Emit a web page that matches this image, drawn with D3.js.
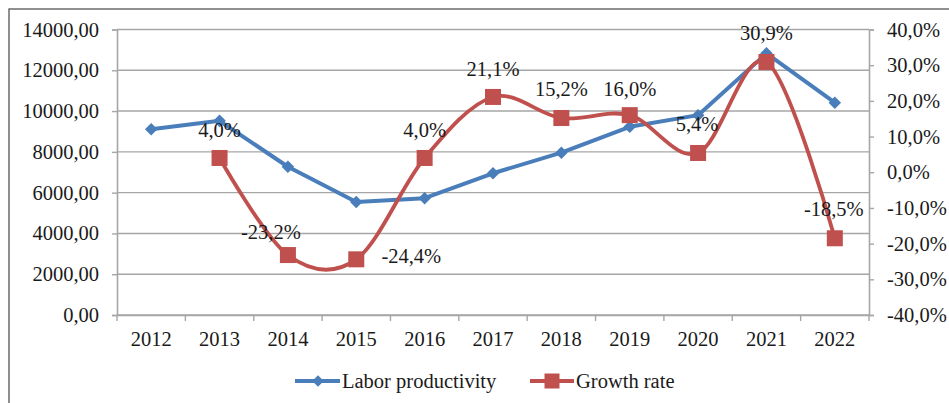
<!DOCTYPE html>
<html>
<head>
<meta charset="utf-8">
<script src="https://cdn.jsdelivr.net/npm/d3@7"></script>
<style>
  html, body { margin: 0; padding: 0; background: #fff; }
  svg text { font-family: "Liberation Serif", "Times New Roman", serif; fill: #1a1a1a; }
</style>
</head>
<body>
<svg id="chart" width="949" height="403"></svg>
<script>
// ---- data ----
const years = ["2012","2013","2014","2015","2016","2017","2018","2019","2020","2021","2022"];
const laborProductivity = [9110, 9520, 7270, 5540, 5730, 6950, 7960, 9230, 9800, 12830, 10410];
const growthYears = ["2013","2014","2015","2016","2017","2018","2019","2020","2021","2022"];
const growthRate = [4.0, -23.2, -24.4, 4.0, 21.1, 15.2, 16.0, 5.4, 30.9, -18.5];
const growthLabels = ["4,0%","-23,2%","-24,4%","4,0%","21,1%","15,2%","16,0%","5,4%","30,9%","-18,5%"];
const leftTicks = [0, 2000, 4000, 6000, 8000, 10000, 12000, 14000];
const rightTicks = [-40, -30, -20, -10, 0, 10, 20, 30, 40];
const seriesNames = ["Labor productivity", "Growth rate"];

// ---- layout ----
const W = 949, H = 403;
const plot = { left: 117, right: 869, top: 29.5, bottom: 315 };
const blue = "#4a7ebb", red = "#c0504d", grid = "#a6a6a6";
const fontSize = 20.5;
// label offsets relative to the point (dx, dy of baseline)
const labelOffsets = [[0,-21],[-17,-16],[55,4],[0,-21],[0,-21],[0,-22],[0,-19],[-1,-22],[0,-22],[-1,-22]];

const svg = d3.select("#chart");

// frame
svg.append("rect").attr("x", 9).attr("y", 9).attr("width", 980).attr("height", 430)
  .attr("fill", "none").attr("stroke", "#555").attr("stroke-width", 1.3);

const x = d3.scaleBand().domain(years).range([plot.left, plot.right]).paddingInner(0).paddingOuter(0);
const yL = d3.scaleLinear().domain([0, 14000]).range([plot.bottom, plot.top]);
const yR = d3.scaleLinear().domain([-40, 40]).range([plot.bottom, plot.top]);
const cx = d => x(d) + x.bandwidth() / 2;

// gridlines
svg.append("g").selectAll("line").data(leftTicks).join("line")
  .attr("x1", plot.left).attr("x2", plot.right)
  .attr("y1", d => yL(d)).attr("y2", d => yL(d))
  .attr("stroke", grid).attr("stroke-width", 1.4);

// left axis
const fmtL = d => d3.format(".2f")(d).replace(".", ",");
const gL = svg.append("g").attr("transform", `translate(${plot.left},0)`)
  .call(d3.axisLeft(yL).tickValues(leftTicks).tickFormat(fmtL).tickSize(5).tickPadding(13));
gL.select(".domain").attr("stroke", grid).attr("stroke-width", 1.6);
gL.selectAll(".tick line").attr("stroke", grid).attr("stroke-width", 1.4);
gL.selectAll("text").attr("font-size", fontSize).attr("font-family", "Liberation Serif").attr("fill", "#1a1a1a");

// right axis
const fmtR = d => d3.format(".1f")(d).replace(".", ",").replace("−", "-") + "%";
const gR = svg.append("g").attr("transform", `translate(${plot.right},0)`)
  .call(d3.axisRight(yR).tickValues(rightTicks).tickFormat(fmtR).tickSize(5).tickPadding(13));
gR.select(".domain").attr("stroke", grid).attr("stroke-width", 1.6);
gR.selectAll(".tick line").attr("stroke", grid).attr("stroke-width", 1.4);
gR.selectAll("text").attr("font-size", fontSize).attr("font-family", "Liberation Serif").attr("fill", "#1a1a1a");

// bottom axis
const gB = svg.append("g").attr("transform", `translate(0,${plot.bottom})`)
  .call(d3.axisBottom(x).tickSize(0).tickPadding(16));
gB.select(".domain").attr("stroke", grid).attr("stroke-width", 1.6);
gB.selectAll("text").attr("font-size", fontSize).attr("font-family", "Liberation Serif").attr("fill", "#1a1a1a");
// category boundary ticks
const bounds = years.map(d => x(d)).concat([plot.right]);
svg.append("g").selectAll("line").data(bounds).join("line")
  .attr("x1", d => d).attr("x2", d => d)
  .attr("y1", plot.bottom).attr("y2", plot.bottom + 6)
  .attr("stroke", grid).attr("stroke-width", 1.4);

// blue series
const lpData = years.map((y, i) => ({ x: cx(y), y: yL(laborProductivity[i]) }));
svg.append("path").datum(lpData)
  .attr("d", d3.line().x(d => d.x).y(d => d.y))
  .attr("fill", "none").attr("stroke", blue).attr("stroke-width", 4).attr("stroke-linejoin", "round");
svg.append("g").selectAll("path").data(lpData).join("path")
  .attr("transform", d => `translate(${d.x},${d.y}) rotate(45)`)
  .attr("d", d3.symbol().type(d3.symbolSquare2).size(100))
  .attr("fill", blue);

// red series
const grData = growthYears.map((y, i) => ({ x: cx(y), y: yR(growthRate[i]) }));
svg.append("path").datum(grData)
  .attr("d", d3.line().x(d => d.x).y(d => d.y).curve(d3.curveCardinal.tension(0)))
  .attr("fill", "none").attr("stroke", red).attr("stroke-width", 3.8);
svg.append("g").selectAll("rect").data(grData).join("rect")
  .attr("x", d => d.x - 8).attr("y", d => d.y - 8)
  .attr("width", 16).attr("height", 16).attr("fill", red);

// data labels
svg.append("g").selectAll("text").data(grData).join("text")
  .attr("x", (d, i) => d.x + labelOffsets[i][0])
  .attr("y", (d, i) => d.y + labelOffsets[i][1])
  .attr("text-anchor", "middle").attr("font-size", fontSize)
  .text((d, i) => growthLabels[i]);

// legend
const legY = 381;
const leg = svg.append("g");
leg.append("line").attr("x1", 295).attr("x2", 340).attr("y1", legY).attr("y2", legY)
  .attr("stroke", blue).attr("stroke-width", 4);
leg.append("path").attr("transform", `translate(318,${legY}) rotate(45)`)
  .attr("d", d3.symbol().type(d3.symbolSquare2).size(85)).attr("fill", blue);
leg.append("text").attr("x", 342).attr("y", legY + 7).attr("font-size", fontSize).text(seriesNames[0]);
leg.append("line").attr("x1", 530).attr("x2", 574).attr("y1", legY).attr("y2", legY)
  .attr("stroke", red).attr("stroke-width", 4);
leg.append("rect").attr("x", 552 - 7.5).attr("y", legY - 7.5).attr("width", 15).attr("height", 15).attr("fill", red);
leg.append("text").attr("x", 576).attr("y", legY + 7).attr("font-size", fontSize).text(seriesNames[1]);
</script>
</body>
</html>
